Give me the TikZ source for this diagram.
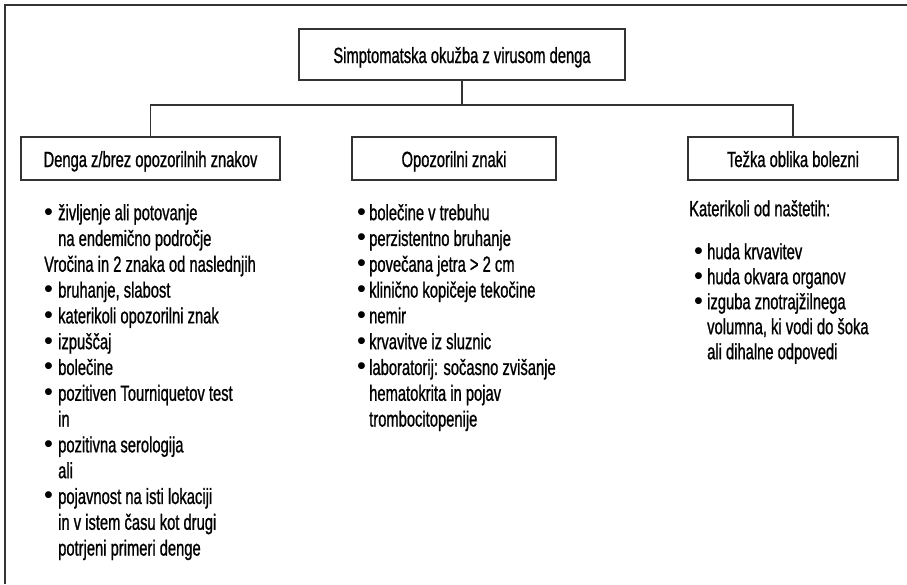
\documentclass[tikz,border=0pt]{standalone}
\usepackage{fontspec}
\setmainfont{Liberation Sans}[FakeStretch=0.67, FakeBold=0.9]
\newfontfamily\dotfont{Liberation Sans}[Scale=1.15]
\usepackage{tikz}

\newcommand{\bul}[1]{\makebox[#1][l]{\dotfont\textbullet}}

\begin{document}
\begin{tikzpicture}[x=1pt, y=-1pt,
    hbox/.style={draw=black!80, line width=1.2pt, inner sep=0pt, text height=17pt, text depth=0pt,
      font=\fontsize{22}{24}\selectfont},
    conn/.style={draw=black!80, line width=1.1pt},
    list/.style={anchor=north west, inner sep=0pt, align=left, font=\fontsize{22}{25.8}\selectfont}]
    \useasboundingbox (0,0) rectangle (907,584);
    \draw[black!80, line width=1.5pt] (907,5) -- (5,5) -- (5,584);

    \node[hbox, minimum width=326pt, minimum height=51pt] (top) at (462,54.5) {Simptomatska okužba z virusom denga};
    \node[hbox, minimum width=259pt, minimum height=43pt] (dws) at (150.5,158.5) {Denga z/brez opozorilnih znakov};
    \node[hbox, minimum width=204pt, minimum height=43pt] (warn) at (454,158.5) {Opozorilni znaki};
    \node[hbox, minimum width=210pt, minimum height=43pt] (severe) at (793,158.5) {Težka oblika bolezni};

    \coordinate (bar) at (0,105);
    \draw[conn] (top.south) -- (top.south |- bar) -| (dws.north);
    \draw[conn] (top.south |- bar) -| (severe.north);

    \def\ind{14pt}
    \node[list] (dwslist) at (44,201.9) {\strut\bul{\ind}življenje ali potovanje\\
      \hspace*{\ind}na endemično področje\\
      Vročina in 2 znaka od naslednjih\\
      \bul{\ind}bruhanje, slabost\\
      \bul{\ind}katerikoli opozorilni znak\\
      \bul{\ind}izpuščaj\\
      \bul{\ind}bolečine\\
      \bul{\ind}pozitiven Tourniquetov test\\
      \hspace*{\ind}in\\
      \bul{\ind}pozitivna serologija\\
      \hspace*{\ind}ali\\
      \bul{\ind}pojavnost na isti lokaciji\\
      \hspace*{\ind}in v istem času kot drugi\\
      \hspace*{\ind}potrjeni primeri denge};

    \def\ind{12pt}
    \node[list] (warnlist) at (357,201.9) {\strut\bul{\ind}bolečine v trebuhu\\
      \bul{\ind}perzistentno bruhanje\\
      \bul{\ind}povečana jetra > 2 cm\\
      \bul{\ind}klinično kopičeje tekočine\\
      \bul{\ind}nemir\\
      \bul{\ind}krvavitve iz sluznic\\
      \bul{\ind}laboratorij: sočasno zvišanje\\
      \hspace*{\ind}hematokrita in pojav\\
      \hspace*{\ind}trombocitopenije};

    \def\ind{13pt}
    \node[list, font=\fontsize{22}{25}\selectfont] (severelist) at (689,198.5) {\strut Katerikoli od naštetih:\\[18pt]
      \hspace*{5pt}\bul{\ind}huda krvavitev\\
      \hspace*{5pt}\bul{\ind}huda okvara organov\\
      \hspace*{5pt}\bul{\ind}izguba znotrajžilnega\\
      \hspace*{18pt}volumna, ki vodi do šoka\\
      \hspace*{18pt}ali dihalne odpovedi};
  \end{tikzpicture}
\end{document}
